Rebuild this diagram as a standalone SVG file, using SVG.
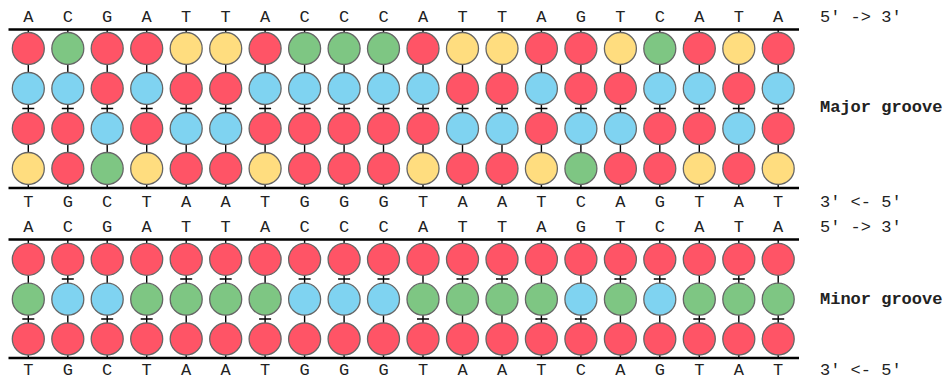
<svg xmlns="http://www.w3.org/2000/svg" width="944" height="380" viewBox="0 0 944 380">
<style>
.r{fill:#FF5466}.g{fill:#7EC683}.b{fill:#7FD3F1}.y{fill:#FFDD7F}
circle{stroke:#666;stroke-width:1.3}
.strand{stroke:#000;stroke-width:2.6;fill:none}
.link{stroke:#000;stroke-width:1.4;fill:none}
text{font-family:"Liberation Mono","DejaVu Sans Mono",monospace;font-size:17px;fill:#222}
.base{text-anchor:middle}
.lab{font-weight:bold}
</style>
<rect width="944" height="380" fill="#fff"/>
<g id="connectors">
<path class="strand" d="M8.5 29.5H799M8.5 188H799M8.5 239.5H799M8.5 358H799"/>
<path class="link" d="M28.3 29.5V188M67.8 29.5V188M107.2 29.5V188M146.7 29.5V188M186.2 29.5V188M225.7 29.5V188M265.1 29.5V188M304.6 29.5V188M344.1 29.5V188M383.5 29.5V188M423 29.5V188M462.5 29.5V188M502 29.5V188M541.4 29.5V188M580.9 29.5V188M620.4 29.5V188M659.8 29.5V188M699.3 29.5V188M738.8 29.5V188M778.2 29.5V188"/>
<path class="link" d="M22.3 108.5h12M61.8 108.5h12M101.2 108.5h12M140.7 108.5h12M180.2 108.5h12M219.7 108.5h12M259.1 108.5h12M298.6 108.5h12M338.1 108.5h12M377.5 108.5h12M417 108.5h12M456.5 108.5h12M496 108.5h12M535.4 108.5h12M574.9 108.5h12M614.4 108.5h12M653.8 108.5h12M693.3 108.5h12M732.8 108.5h12M772.2 108.5h12"/>
<path class="link" d="M28.3 239.5V358M67.8 239.5V358M107.2 239.5V358M146.7 239.5V358M186.2 239.5V358M225.7 239.5V358M265.1 239.5V358M304.6 239.5V358M344.1 239.5V358M383.5 239.5V358M423 239.5V358M462.5 239.5V358M502 239.5V358M541.4 239.5V358M580.9 239.5V358M620.4 239.5V358M659.8 239.5V358M699.3 239.5V358M738.8 239.5V358M778.2 239.5V358"/>
<path class="link" d="M22.3 319h12M61.8 279h12M101.2 319h12M140.7 319h12M180.2 279h12M219.7 279h12M259.1 319h12M298.6 279h12M338.1 279h12M377.5 279h12M417 319h12M456.5 279h12M496 279h12M535.4 319h12M574.9 319h12M614.4 279h12M653.8 279h12M693.3 319h12M732.8 279h12M772.2 319h12"/>
</g>
<g id="major-nodes">
<g id="mj1-1"><circle class="r" cx="28.3" cy="48.5" r="16"/></g><g id="mj1-2"><circle class="b" cx="28.3" cy="88.5" r="16"/></g><g id="mj1-3"><circle class="r" cx="28.3" cy="128.5" r="16"/></g><g id="mj1-4"><circle class="y" cx="28.3" cy="168.5" r="16"/></g>
<g id="mj2-1"><circle class="g" cx="67.8" cy="48.5" r="16"/></g><g id="mj2-2"><circle class="b" cx="67.8" cy="88.5" r="16"/></g><g id="mj2-3"><circle class="r" cx="67.8" cy="128.5" r="16"/></g><g id="mj2-4"><circle class="r" cx="67.8" cy="168.5" r="16"/></g>
<g id="mj3-1"><circle class="r" cx="107.2" cy="48.5" r="16"/></g><g id="mj3-2"><circle class="r" cx="107.2" cy="88.5" r="16"/></g><g id="mj3-3"><circle class="b" cx="107.2" cy="128.5" r="16"/></g><g id="mj3-4"><circle class="g" cx="107.2" cy="168.5" r="16"/></g>
<g id="mj4-1"><circle class="r" cx="146.7" cy="48.5" r="16"/></g><g id="mj4-2"><circle class="b" cx="146.7" cy="88.5" r="16"/></g><g id="mj4-3"><circle class="r" cx="146.7" cy="128.5" r="16"/></g><g id="mj4-4"><circle class="y" cx="146.7" cy="168.5" r="16"/></g>
<g id="mj5-1"><circle class="y" cx="186.2" cy="48.5" r="16"/></g><g id="mj5-2"><circle class="r" cx="186.2" cy="88.5" r="16"/></g><g id="mj5-3"><circle class="b" cx="186.2" cy="128.5" r="16"/></g><g id="mj5-4"><circle class="r" cx="186.2" cy="168.5" r="16"/></g>
<g id="mj6-1"><circle class="y" cx="225.7" cy="48.5" r="16"/></g><g id="mj6-2"><circle class="r" cx="225.7" cy="88.5" r="16"/></g><g id="mj6-3"><circle class="b" cx="225.7" cy="128.5" r="16"/></g><g id="mj6-4"><circle class="r" cx="225.7" cy="168.5" r="16"/></g>
<g id="mj7-1"><circle class="r" cx="265.1" cy="48.5" r="16"/></g><g id="mj7-2"><circle class="b" cx="265.1" cy="88.5" r="16"/></g><g id="mj7-3"><circle class="r" cx="265.1" cy="128.5" r="16"/></g><g id="mj7-4"><circle class="y" cx="265.1" cy="168.5" r="16"/></g>
<g id="mj8-1"><circle class="g" cx="304.6" cy="48.5" r="16"/></g><g id="mj8-2"><circle class="b" cx="304.6" cy="88.5" r="16"/></g><g id="mj8-3"><circle class="r" cx="304.6" cy="128.5" r="16"/></g><g id="mj8-4"><circle class="r" cx="304.6" cy="168.5" r="16"/></g>
<g id="mj9-1"><circle class="g" cx="344.1" cy="48.5" r="16"/></g><g id="mj9-2"><circle class="b" cx="344.1" cy="88.5" r="16"/></g><g id="mj9-3"><circle class="r" cx="344.1" cy="128.5" r="16"/></g><g id="mj9-4"><circle class="r" cx="344.1" cy="168.5" r="16"/></g>
<g id="mj10-1"><circle class="g" cx="383.5" cy="48.5" r="16"/></g><g id="mj10-2"><circle class="b" cx="383.5" cy="88.5" r="16"/></g><g id="mj10-3"><circle class="r" cx="383.5" cy="128.5" r="16"/></g><g id="mj10-4"><circle class="r" cx="383.5" cy="168.5" r="16"/></g>
<g id="mj11-1"><circle class="r" cx="423" cy="48.5" r="16"/></g><g id="mj11-2"><circle class="b" cx="423" cy="88.5" r="16"/></g><g id="mj11-3"><circle class="r" cx="423" cy="128.5" r="16"/></g><g id="mj11-4"><circle class="y" cx="423" cy="168.5" r="16"/></g>
<g id="mj12-1"><circle class="y" cx="462.5" cy="48.5" r="16"/></g><g id="mj12-2"><circle class="r" cx="462.5" cy="88.5" r="16"/></g><g id="mj12-3"><circle class="b" cx="462.5" cy="128.5" r="16"/></g><g id="mj12-4"><circle class="r" cx="462.5" cy="168.5" r="16"/></g>
<g id="mj13-1"><circle class="y" cx="502" cy="48.5" r="16"/></g><g id="mj13-2"><circle class="r" cx="502" cy="88.5" r="16"/></g><g id="mj13-3"><circle class="b" cx="502" cy="128.5" r="16"/></g><g id="mj13-4"><circle class="r" cx="502" cy="168.5" r="16"/></g>
<g id="mj14-1"><circle class="r" cx="541.4" cy="48.5" r="16"/></g><g id="mj14-2"><circle class="b" cx="541.4" cy="88.5" r="16"/></g><g id="mj14-3"><circle class="r" cx="541.4" cy="128.5" r="16"/></g><g id="mj14-4"><circle class="y" cx="541.4" cy="168.5" r="16"/></g>
<g id="mj15-1"><circle class="r" cx="580.9" cy="48.5" r="16"/></g><g id="mj15-2"><circle class="r" cx="580.9" cy="88.5" r="16"/></g><g id="mj15-3"><circle class="b" cx="580.9" cy="128.5" r="16"/></g><g id="mj15-4"><circle class="g" cx="580.9" cy="168.5" r="16"/></g>
<g id="mj16-1"><circle class="y" cx="620.4" cy="48.5" r="16"/></g><g id="mj16-2"><circle class="r" cx="620.4" cy="88.5" r="16"/></g><g id="mj16-3"><circle class="b" cx="620.4" cy="128.5" r="16"/></g><g id="mj16-4"><circle class="r" cx="620.4" cy="168.5" r="16"/></g>
<g id="mj17-1"><circle class="g" cx="659.8" cy="48.5" r="16"/></g><g id="mj17-2"><circle class="b" cx="659.8" cy="88.5" r="16"/></g><g id="mj17-3"><circle class="r" cx="659.8" cy="128.5" r="16"/></g><g id="mj17-4"><circle class="r" cx="659.8" cy="168.5" r="16"/></g>
<g id="mj18-1"><circle class="r" cx="699.3" cy="48.5" r="16"/></g><g id="mj18-2"><circle class="b" cx="699.3" cy="88.5" r="16"/></g><g id="mj18-3"><circle class="r" cx="699.3" cy="128.5" r="16"/></g><g id="mj18-4"><circle class="y" cx="699.3" cy="168.5" r="16"/></g>
<g id="mj19-1"><circle class="y" cx="738.8" cy="48.5" r="16"/></g><g id="mj19-2"><circle class="r" cx="738.8" cy="88.5" r="16"/></g><g id="mj19-3"><circle class="b" cx="738.8" cy="128.5" r="16"/></g><g id="mj19-4"><circle class="r" cx="738.8" cy="168.5" r="16"/></g>
<g id="mj20-1"><circle class="r" cx="778.2" cy="48.5" r="16"/></g><g id="mj20-2"><circle class="b" cx="778.2" cy="88.5" r="16"/></g><g id="mj20-3"><circle class="r" cx="778.2" cy="128.5" r="16"/></g><g id="mj20-4"><circle class="y" cx="778.2" cy="168.5" r="16"/></g>
</g>
<g id="minor-nodes">
<g id="mn1-1"><circle class="r" cx="28.3" cy="259.3" r="16"/></g><g id="mn1-2"><circle class="g" cx="28.3" cy="299.2" r="16"/></g><g id="mn1-3"><circle class="r" cx="28.3" cy="339" r="16"/></g>
<g id="mn2-1"><circle class="r" cx="67.8" cy="259.3" r="16"/></g><g id="mn2-2"><circle class="b" cx="67.8" cy="299.2" r="16"/></g><g id="mn2-3"><circle class="r" cx="67.8" cy="339" r="16"/></g>
<g id="mn3-1"><circle class="r" cx="107.2" cy="259.3" r="16"/></g><g id="mn3-2"><circle class="b" cx="107.2" cy="299.2" r="16"/></g><g id="mn3-3"><circle class="r" cx="107.2" cy="339" r="16"/></g>
<g id="mn4-1"><circle class="r" cx="146.7" cy="259.3" r="16"/></g><g id="mn4-2"><circle class="g" cx="146.7" cy="299.2" r="16"/></g><g id="mn4-3"><circle class="r" cx="146.7" cy="339" r="16"/></g>
<g id="mn5-1"><circle class="r" cx="186.2" cy="259.3" r="16"/></g><g id="mn5-2"><circle class="g" cx="186.2" cy="299.2" r="16"/></g><g id="mn5-3"><circle class="r" cx="186.2" cy="339" r="16"/></g>
<g id="mn6-1"><circle class="r" cx="225.7" cy="259.3" r="16"/></g><g id="mn6-2"><circle class="g" cx="225.7" cy="299.2" r="16"/></g><g id="mn6-3"><circle class="r" cx="225.7" cy="339" r="16"/></g>
<g id="mn7-1"><circle class="r" cx="265.1" cy="259.3" r="16"/></g><g id="mn7-2"><circle class="g" cx="265.1" cy="299.2" r="16"/></g><g id="mn7-3"><circle class="r" cx="265.1" cy="339" r="16"/></g>
<g id="mn8-1"><circle class="r" cx="304.6" cy="259.3" r="16"/></g><g id="mn8-2"><circle class="b" cx="304.6" cy="299.2" r="16"/></g><g id="mn8-3"><circle class="r" cx="304.6" cy="339" r="16"/></g>
<g id="mn9-1"><circle class="r" cx="344.1" cy="259.3" r="16"/></g><g id="mn9-2"><circle class="b" cx="344.1" cy="299.2" r="16"/></g><g id="mn9-3"><circle class="r" cx="344.1" cy="339" r="16"/></g>
<g id="mn10-1"><circle class="r" cx="383.5" cy="259.3" r="16"/></g><g id="mn10-2"><circle class="b" cx="383.5" cy="299.2" r="16"/></g><g id="mn10-3"><circle class="r" cx="383.5" cy="339" r="16"/></g>
<g id="mn11-1"><circle class="r" cx="423" cy="259.3" r="16"/></g><g id="mn11-2"><circle class="g" cx="423" cy="299.2" r="16"/></g><g id="mn11-3"><circle class="r" cx="423" cy="339" r="16"/></g>
<g id="mn12-1"><circle class="r" cx="462.5" cy="259.3" r="16"/></g><g id="mn12-2"><circle class="g" cx="462.5" cy="299.2" r="16"/></g><g id="mn12-3"><circle class="r" cx="462.5" cy="339" r="16"/></g>
<g id="mn13-1"><circle class="r" cx="502" cy="259.3" r="16"/></g><g id="mn13-2"><circle class="g" cx="502" cy="299.2" r="16"/></g><g id="mn13-3"><circle class="r" cx="502" cy="339" r="16"/></g>
<g id="mn14-1"><circle class="r" cx="541.4" cy="259.3" r="16"/></g><g id="mn14-2"><circle class="g" cx="541.4" cy="299.2" r="16"/></g><g id="mn14-3"><circle class="r" cx="541.4" cy="339" r="16"/></g>
<g id="mn15-1"><circle class="r" cx="580.9" cy="259.3" r="16"/></g><g id="mn15-2"><circle class="b" cx="580.9" cy="299.2" r="16"/></g><g id="mn15-3"><circle class="r" cx="580.9" cy="339" r="16"/></g>
<g id="mn16-1"><circle class="r" cx="620.4" cy="259.3" r="16"/></g><g id="mn16-2"><circle class="g" cx="620.4" cy="299.2" r="16"/></g><g id="mn16-3"><circle class="r" cx="620.4" cy="339" r="16"/></g>
<g id="mn17-1"><circle class="r" cx="659.8" cy="259.3" r="16"/></g><g id="mn17-2"><circle class="b" cx="659.8" cy="299.2" r="16"/></g><g id="mn17-3"><circle class="r" cx="659.8" cy="339" r="16"/></g>
<g id="mn18-1"><circle class="r" cx="699.3" cy="259.3" r="16"/></g><g id="mn18-2"><circle class="g" cx="699.3" cy="299.2" r="16"/></g><g id="mn18-3"><circle class="r" cx="699.3" cy="339" r="16"/></g>
<g id="mn19-1"><circle class="r" cx="738.8" cy="259.3" r="16"/></g><g id="mn19-2"><circle class="g" cx="738.8" cy="299.2" r="16"/></g><g id="mn19-3"><circle class="r" cx="738.8" cy="339" r="16"/></g>
<g id="mn20-1"><circle class="r" cx="778.2" cy="259.3" r="16"/></g><g id="mn20-2"><circle class="g" cx="778.2" cy="299.2" r="16"/></g><g id="mn20-3"><circle class="r" cx="778.2" cy="339" r="16"/></g>
</g>
<g id="labels">
<text class="base" y="21.5"><tspan x="28.3">A</tspan><tspan x="67.8">C</tspan><tspan x="107.2">G</tspan><tspan x="146.7">A</tspan><tspan x="186.2">T</tspan><tspan x="225.7">T</tspan><tspan x="265.1">A</tspan><tspan x="304.6">C</tspan><tspan x="344.1">C</tspan><tspan x="383.5">C</tspan><tspan x="423">A</tspan><tspan x="462.5">T</tspan><tspan x="502">T</tspan><tspan x="541.4">A</tspan><tspan x="580.9">G</tspan><tspan x="620.4">T</tspan><tspan x="659.8">C</tspan><tspan x="699.3">A</tspan><tspan x="738.8">T</tspan><tspan x="778.2">A</tspan></text>
<text class="base" y="206.8"><tspan x="28.3">T</tspan><tspan x="67.8">G</tspan><tspan x="107.2">C</tspan><tspan x="146.7">T</tspan><tspan x="186.2">A</tspan><tspan x="225.7">A</tspan><tspan x="265.1">T</tspan><tspan x="304.6">G</tspan><tspan x="344.1">G</tspan><tspan x="383.5">G</tspan><tspan x="423">T</tspan><tspan x="462.5">A</tspan><tspan x="502">A</tspan><tspan x="541.4">T</tspan><tspan x="580.9">C</tspan><tspan x="620.4">A</tspan><tspan x="659.8">G</tspan><tspan x="699.3">T</tspan><tspan x="738.8">A</tspan><tspan x="778.2">T</tspan></text>
<text class="base" y="231.8"><tspan x="28.3">A</tspan><tspan x="67.8">C</tspan><tspan x="107.2">G</tspan><tspan x="146.7">A</tspan><tspan x="186.2">T</tspan><tspan x="225.7">T</tspan><tspan x="265.1">A</tspan><tspan x="304.6">C</tspan><tspan x="344.1">C</tspan><tspan x="383.5">C</tspan><tspan x="423">A</tspan><tspan x="462.5">T</tspan><tspan x="502">T</tspan><tspan x="541.4">A</tspan><tspan x="580.9">G</tspan><tspan x="620.4">T</tspan><tspan x="659.8">C</tspan><tspan x="699.3">A</tspan><tspan x="738.8">T</tspan><tspan x="778.2">A</tspan></text>
<text class="base" y="375"><tspan x="28.3">T</tspan><tspan x="67.8">G</tspan><tspan x="107.2">C</tspan><tspan x="146.7">T</tspan><tspan x="186.2">A</tspan><tspan x="225.7">A</tspan><tspan x="265.1">T</tspan><tspan x="304.6">G</tspan><tspan x="344.1">G</tspan><tspan x="383.5">G</tspan><tspan x="423">T</tspan><tspan x="462.5">A</tspan><tspan x="502">A</tspan><tspan x="541.4">T</tspan><tspan x="580.9">C</tspan><tspan x="620.4">A</tspan><tspan x="659.8">G</tspan><tspan x="699.3">T</tspan><tspan x="738.8">A</tspan><tspan x="778.2">T</tspan></text>
<text x="820" y="21.5" xml:space="preserve">5' -&gt; 3'</text>
<text x="820" y="206.8" xml:space="preserve">3' &lt;- 5'</text>
<text x="820" y="231.8" xml:space="preserve">5' -&gt; 3'</text>
<text x="820" y="375" xml:space="preserve">3' &lt;- 5'</text>
<text class="lab" x="820" y="112">Major groove</text>
<text class="lab" x="820" y="304">Minor groove</text>
</g>
</svg>
